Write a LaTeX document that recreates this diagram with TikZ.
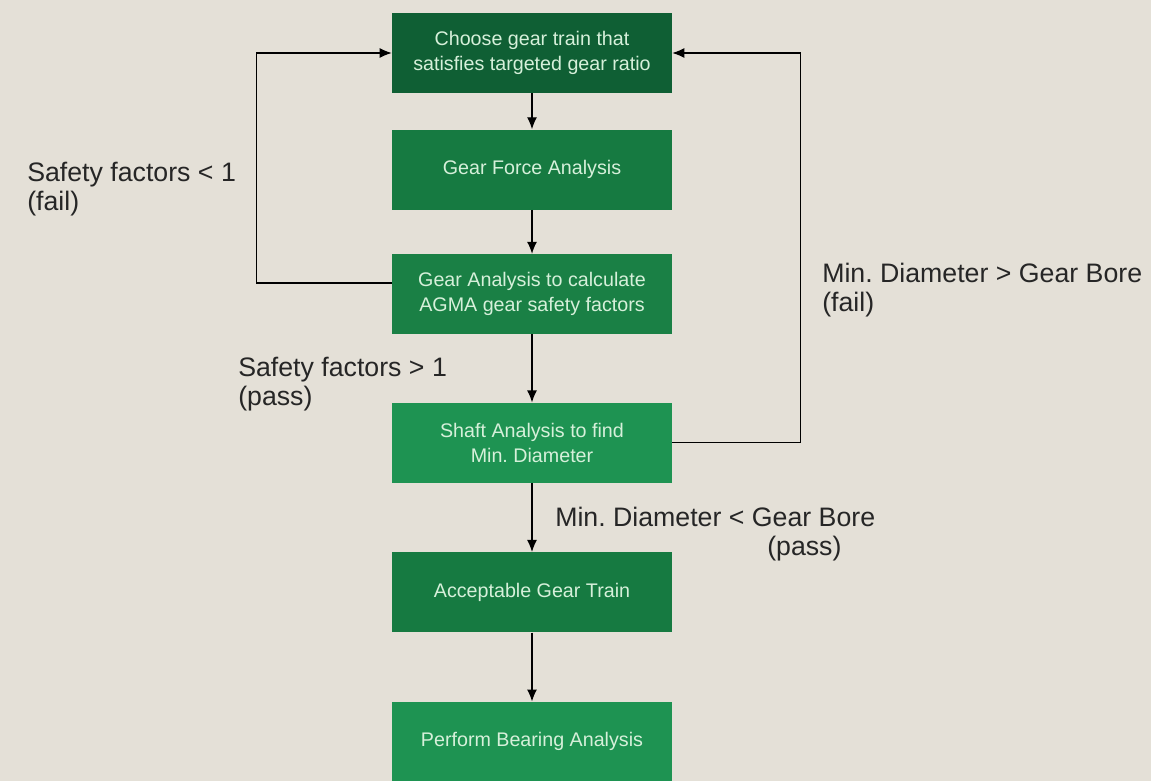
\documentclass[tikz,border=0pt]{standalone}
\usepackage{fontspec}
\setmainfont{Liberation Sans}
\usepackage{xcolor}
\usepackage{tikz}
\usetikzlibrary{positioning, arrows.meta, calc}
\frenchspacing

\definecolor{bgbeige}{HTML}{E4E0D7}
\definecolor{greenA}{HTML}{0F5F34}
\definecolor{greenB}{HTML}{167A41}
\definecolor{greenC}{HTML}{1A8045}
\definecolor{greenD}{HTML}{1E9352}
\definecolor{boxtext}{HTML}{D6F0DA}

\begin{document}
\begin{tikzpicture}[every node/.style={font=\fontsize{14}{17.7}\selectfont}]
      \tikzstyle{box}=[rectangle, draw=none, text=boxtext, align=center, minimum width=7cm, minimum height=2cm, inner sep=0pt]
      \tikzstyle{flow}=[-{Latex[length=0.3cm, width=0.25cm]}, line width=0.9pt, black]
      \tikzstyle{lbl}=[anchor=north west, align=left, inner sep=0pt, font=\fontsize{19}{20.5}\selectfont, text=black!85]
      % background and page size
      \fill[bgbeige] (0,0) rectangle (28.775,-19.525);
      \useasboundingbox (0,0) rectangle (28.775,-19.525);
      % steps
      \node[box, fill=greenA] (choose) at (13.3,-1.325) {Choose gear train that\\satisfies targeted gear ratio};
      \node[box, fill=greenB, below=0.9cm of choose] (force) {Gear Force Analysis};
      \node[box, fill=greenC, below=1.1cm of force] (agma) {Gear Analysis to calculate\\AGMA gear safety factors};
      \node[box, fill=greenD, below=1.7cm of agma] (shaft) {Shaft Analysis to find\\Min. Diameter};
      \node[box, fill=greenB, below=1.725cm of shaft] (accept) {Acceptable Gear Train};
      \node[box, fill=greenD, below=1.725cm of accept] (bearing) {Perform Bearing Analysis};
      % main flow
      \draw[flow] (choose) -- (force);
      \draw[flow] (force) -- (agma);
      \draw[flow] (agma) -- (shaft);
      \draw[flow] (shaft) -- (accept);
      \draw[flow] (accept) -- (bearing);
      % loops back
      \draw[flow] ([yshift=0.275cm]agma.west) -- ++(-3.375,0) |- (choose.west);
      \draw[flow] (shaft.east) -- ++(3.2,0) |- (choose.east);
      % conditions
      \node[lbl] (sfail) at (0.675,-4.05) {Safety factors < 1\\(fail)};
      \node[lbl] (spass) at (5.95,-8.93) {Safety factors > 1\\(pass)};
      \node[lbl] (dfail) at (20.55,-6.57) {Min. Diameter > Gear Bore\\(fail)};
      \node[lbl] (dpass) at (13.875,-12.68) {Min. Diameter < Gear Bore\\\hspace*{5.3cm}(pass)};
    \end{tikzpicture}
\end{document}
